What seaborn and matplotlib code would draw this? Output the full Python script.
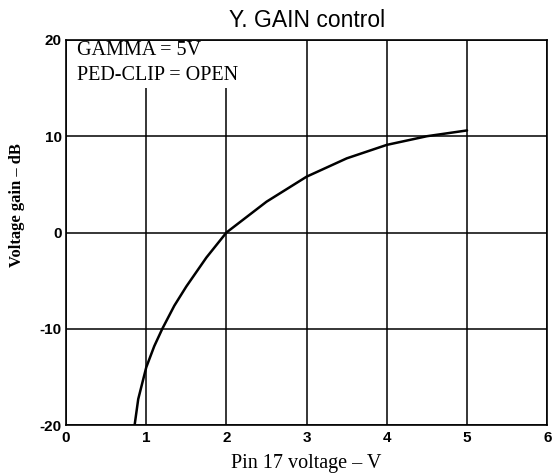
import matplotlib
matplotlib.use("Agg")
import matplotlib.pyplot as plt
import seaborn as sns
import pandas as pd

pin_voltage = [0.855, 0.9, 1.0, 1.1, 1.2, 1.35, 1.5, 1.75, 2.0, 2.5, 3.0, 3.5, 4.0, 4.5, 5.0]
gain_db = [-20.0, -17.3, -14.0, -11.8, -10.0, -7.6, -5.6, -2.6, 0.0, 3.2, 5.8, 7.7, 9.1, 10.0, 10.6]
x_ticks = [0, 1, 2, 3, 4, 5, 6]
y_ticks = [-20, -10, 0, 10, 20]

sns.set_style("white")
plt.rcParams["axes.unicode_minus"] = False
plt.rcParams["text.color"] = "black"
plt.rcParams["axes.labelcolor"] = "black"
plt.rcParams["xtick.color"] = "black"
plt.rcParams["ytick.color"] = "black"

df = pd.DataFrame({"x": pin_voltage, "y": gain_db})

fig = plt.figure(figsize=(5.55, 4.75), dpi=100)
ax = fig.add_axes([0.119, 0.105, 0.867, 0.811])

# vertical grid lines; those under the annotation stop short of the top
for xv in x_ticks:
    top = 15.0 if xv in (1, 2) else 20.0
    ax.vlines(xv, -20, top, color="black", lw=1.1, zorder=1)
for yv in y_ticks:
    ax.axhline(yv, color="black", lw=1.1, zorder=1)

sns.lineplot(data=df, x="x", y="y", ax=ax, color="black", lw=1.8, zorder=3)

ax.set_xlim(0, 6)
ax.set_ylim(-20, 20)
ax.set_xticks(x_ticks)
ax.set_yticks(y_ticks)
ax.set_xticklabels([str(v) for v in x_ticks], fontsize=11, fontweight="bold", family="Liberation Sans")
ax.set_yticklabels([str(v) for v in y_ticks], fontsize=11, fontweight="bold", family="Liberation Sans")
ax.tick_params(axis="x", length=0, pad=4, labelcolor="black")
ax.tick_params(axis="y", length=0, pad=3, labelcolor="black")
for s in ax.spines.values():
    s.set_color("black")
    s.set_linewidth(1.2)

ax.set_xlabel("Pin 17 voltage \u2013 V", family="Liberation Serif", fontsize=14.5, labelpad=7, color="black")
ax.set_ylabel("Voltage gain \u2013 dB", family="Liberation Serif", fontsize=12, fontweight="bold", labelpad=4, color="black")
ax.yaxis.set_label_coords(-0.085, 0.57)
ax.set_title("Y. GAIN control", family="Liberation Sans", fontsize=16.5, pad=9, color="black")

ax.text(0.14, 19.9, "GAMMA = 5V", family="Liberation Serif", fontsize=14.5, va="top", ha="left", color="black")
ax.text(0.14, 17.3, "PED-CLIP = OPEN", family="Liberation Serif", fontsize=14.5, va="top", ha="left", color="black")

fig.savefig("out.png", dpi=100)
